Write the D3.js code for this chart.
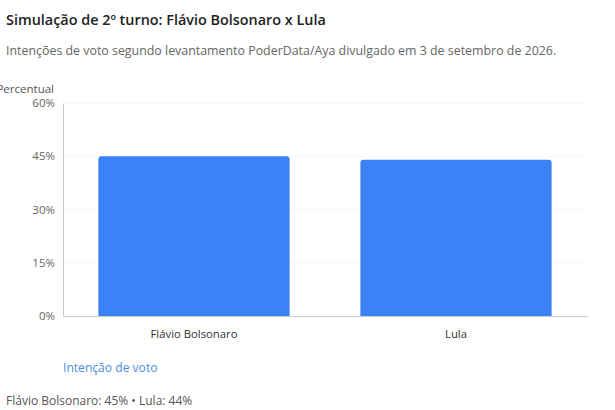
<!DOCTYPE html>
<html><head><meta charset="utf-8">
<script src="https://cdn.jsdelivr.net/npm/d3@7"></script>
<style>body{margin:0;background:#fff;font-family:"Open Sans","Noto Sans",sans-serif;}</style>
</head><body><svg id="c" width="615" height="410"></svg>
<script>
const categories = ["Flávio Bolsonaro", "Lula"];
const values = [45, 44];
const yTicks = [0, 15, 30, 45, 60];

const svg = d3.select("#c");
const m = {left: 63, right: 28, top: 103, bottom: 94};
const W = 615, H = 410;
const x = d3.scaleBand().domain(categories).range([m.left, W - m.right]).paddingInner(0.27).paddingOuter(0.135);
const y = d3.scaleLinear().domain([0, 60]).range([H - m.bottom, m.top]);

svg.append("text").attr("x", 6).attr("y", 25).attr("font-size", 14.4).attr("font-weight", 600).attr("fill", "#222")
  .text("Simulação de 2º turno: Flávio Bolsonaro x Lula");
svg.append("text").attr("x", 6).attr("y", 55).attr("font-size", 12.4).attr("fill", "#666")
  .text("Intenções de voto segundo levantamento PoderData/Aya divulgado em 3 de setembro de 2026.");

// grid
svg.append("g").selectAll("line").data(yTicks.filter(d => d > 0)).join("line")
  .attr("x1", m.left).attr("x2", W - m.right).attr("y1", d => y(d)).attr("y2", d => y(d))
  .attr("stroke", "#f5f5f5").attr("stroke-width", 1);

// y axis
const ya = svg.append("g").attr("transform", `translate(${m.left},0)`)
  .call(d3.axisLeft(y).tickValues(yTicks).tickSize(0).tickPadding(8).tickFormat(d => d + "%"));
ya.select(".domain").attr("stroke", "#c8c8c8");
ya.selectAll("text").attr("font-size", 11.5).attr("fill", "#666").attr("font-family", "'Open Sans','Noto Sans',sans-serif");

// axis title, partly clipped at the left edge as in the reference
svg.append("text").attr("x", 54).attr("y", 93).attr("text-anchor", "end").attr("font-size", 11.5).attr("fill", "#555")
  .text("Percentual");

// bars with rounded top corners
const r = 3;
svg.append("g").selectAll("path").data(categories).join("path")
  .attr("fill", "#3b82f6")
  .attr("d", (c, i) => {
    const x0 = x(c), w = x.bandwidth(), y0 = y(values[i]), yb = y(0);
    return `M${x0},${yb}V${y0 + r}Q${x0},${y0} ${x0 + r},${y0}H${x0 + w - r}Q${x0 + w},${y0} ${x0 + w},${y0 + r}V${yb}Z`;
  });

// x axis
const xa = svg.append("g").attr("transform", `translate(0,${y(0)})`)
  .call(d3.axisBottom(x).tickSize(0).tickPadding(14));
xa.select(".domain").attr("stroke", "#c8c8c8");
xa.selectAll("text").attr("font-size", 11.3).attr("fill", "#333").attr("font-family", "'Open Sans','Noto Sans',sans-serif");

svg.append("text").attr("x", m.left).attr("y", 372).attr("font-size", 12.1).attr("fill", "#4a8fe0")
  .text("Intenção de voto");

svg.append("text").attr("x", 6).attr("y", 405).attr("font-size", 12).attr("fill", "#555")
  .text(categories.map((c, i) => `${c}: ${values[i]}%`).join(" • "));
</script></body></html>
